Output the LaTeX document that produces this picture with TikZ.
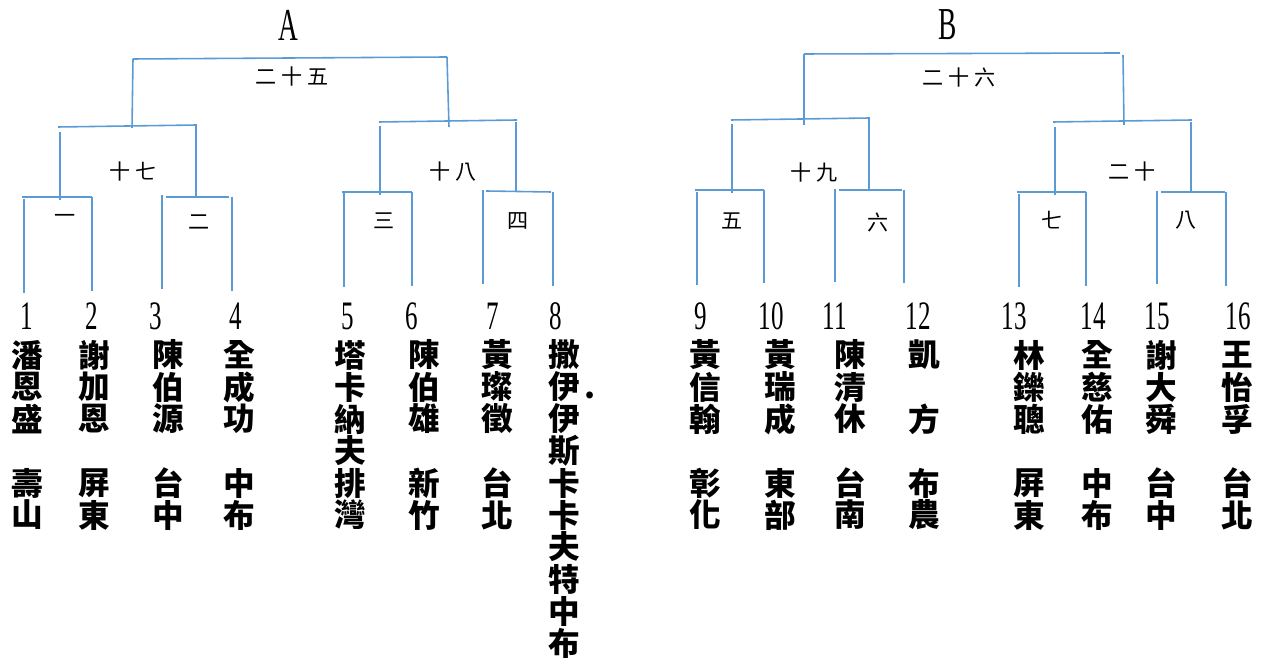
\documentclass[tikz,border=0pt]{standalone}
\usepackage{fontspec}
\usepackage{xcolor}
\usepackage{tikz}
\newfontfamily\cjkfont{Noto Sans CJK TC}
\newfontfamily\roundfont{Noto Sans CJK TC}[LetterSpace=25]
\newfontfamily\numfont{Liberation Serif}[FakeStretch=0.62]
\newfontfamily\titlefont{Liberation Serif}[FakeStretch=0.6]
\definecolor{bracketblue}{RGB}{91,155,213}

\tikzset{
  bline/.style={draw=bracketblue, line width=0.9pt},
  roundlbl/.style={inner sep=0pt, font=\roundfont\fontsize{12}{12}\selectfont},
  numtxt/.style={inner sep=0pt, font=\numfont\fontsize{23}{23}\selectfont},
  namech/.style={inner sep=0pt, font=\cjkfont\bfseries\fontsize{18}{18}\selectfont},
  titletxt/.style={inner sep=0pt, font=\titlefont\fontsize{26}{26}\selectfont}
}

\begin{document}
\begin{tikzpicture}[x=0.02cm, y=-0.02cm]
\useasboundingbox (0,0) rectangle (1269,661);

% group A
\node[titletxt] (titleA) at (288,25) {A};
\draw[bline] (133,59) -- (447,57);
\draw[bline] (133,59) -- (132,128);
\draw[bline] (447,57) -- (449,127);
\node[roundlbl] (r25) at (292,77) {二十五};
\draw[bline] (58,127) -- (197,125);
\draw[bline] (60,132) -- (60,200);
\draw[bline] (196,125) -- (196,196);
\node[roundlbl] (r17) at (133,172) {十七};
\draw[bline] (22,197) -- (92,197);
\draw[bline] (24,199) -- (24,293);
\draw[bline] (92,197) -- (92,291);
\node[roundlbl] (r1) at (65,219) {一};
\draw[bline] (166,197) -- (229,197);
\draw[bline] (162,195) -- (162,289);
\draw[bline] (232,197) -- (232,291);
\node[roundlbl] (r2) at (199,222) {二};
\draw[bline] (379,122) -- (517,120);
\draw[bline] (380,126) -- (380,195);
\draw[bline] (516,122) -- (516,192);
\node[roundlbl] (r18) at (453,172) {十八};
\draw[bline] (342,192) -- (412,192);
\draw[bline] (344,193) -- (344,287);
\draw[bline] (412,192) -- (412,286);
\node[roundlbl] (r3) at (384,221) {三};
\draw[bline] (486,191) -- (551,192);
\draw[bline] (483,190) -- (483,284);
\draw[bline] (553,192) -- (553,286);
\node[roundlbl] (r4) at (518,221) {四};

% group B
\node[titletxt] (titleB) at (948,25) {B};
\draw[bline] (804,54) -- (1120,53);
\draw[bline] (804,54) -- (804,125);
\draw[bline] (1123,55) -- (1124,125);
\node[roundlbl] (r26) at (959,78) {二十六};
\draw[bline] (731,120) -- (870,118);
\draw[bline] (732,124) -- (732,193);
\draw[bline] (869,119) -- (869,190);
\node[roundlbl] (r19) at (814,173) {十九};
\draw[bline] (695,190) -- (764,190);
\draw[bline] (697,192) -- (697,285);
\draw[bline] (764,190) -- (764,283);
\node[roundlbl] (r5) at (732,221) {五};
\draw[bline] (839,190) -- (902,190);
\draw[bline] (835,189) -- (835,282);
\draw[bline] (904,190) -- (904,283);
\node[roundlbl] (r6) at (878,222) {六};
\draw[bline] (1053,122) -- (1192,120);
\draw[bline] (1055,127) -- (1055,195);
\draw[bline] (1191,122) -- (1191,192);
\node[roundlbl] (r20) at (1132,172) {二十};
\draw[bline] (1017,192) -- (1086,192);
\draw[bline] (1019,194) -- (1019,287);
\draw[bline] (1086,192) -- (1086,286);
\node[roundlbl] (r7) at (1052,220) {七};
\draw[bline] (1161,192) -- (1225,192);
\draw[bline] (1157,191) -- (1157,284);
\draw[bline] (1226,192) -- (1226,286);
\node[roundlbl] (r8) at (1186,220) {八};

% seeds, names and home towns
\foreach \nx/\cx/\num/\chars in {
  27/27/1/{潘,恩,盛,~,壽,山},
  92/94/2/{謝,加,恩,~,屏,東},
  156/168/3/{陳,伯,源,~,台,中},
  236/239/4/{全,成,功,~,中,布},
  348/350/5/{塔,卡,納,夫,排,灣},
  412/424/6/{陳,伯,雄,~,新,竹},
  493/497/7/{黃,璨,徵,~,台,北},
  556/564/8/{撒,伊,伊,斯,卡,卡,夫,特,中,布},
  701/705/9/{黃,信,翰,~,彰,化},
  771/780/10/{黃,瑞,成,~,東,部},
  835/850/11/{陳,清,休,~,台,南},
  918/924/12/{凱,~,方,~,布,農},
  1014/1029/13/{林,鑠,聰,~,屏,東},
  1093/1097/14/{全,慈,佑,~,中,布},
  1157/1161/15/{謝,大,舜,~,台,中},
  1238/1237/16/{王,怡,孚,~,台,北}}
{
  \node[numtxt] (num\num) at (\nx,316) {\num};
  \foreach \ch [count=\k] in \chars
    \node[namech] (ch\num-\k) at (\cx,323+32*\k) {\ch};
}
\node[namech, anchor=west] (dot8) at ([xshift=2pt, yshift=-5pt]ch8-2.east) {.};
\end{tikzpicture}
\end{document}
